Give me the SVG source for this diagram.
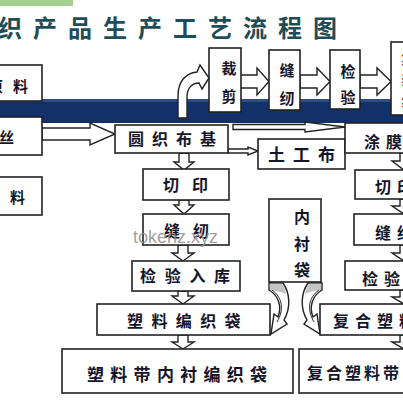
<svg xmlns="http://www.w3.org/2000/svg" width="403" height="403" viewBox="0 0 403 403">
<style>
.box{fill:#fff;stroke:#222;stroke-width:1.6}
.t{font-family:"Noto Sans CJK SC","Noto Sans",sans-serif;font-weight:700;fill:#15152a;font-size:16px}
.vt{font-family:"Noto Sans CJK SC","Noto Sans",sans-serif;font-weight:700;fill:#15152a;font-size:15px;text-anchor:middle}
.arr{fill:#fff;stroke:#222;stroke-width:1.4;stroke-linejoin:miter}
.title{font-family:"Noto Sans CJK SC","Noto Sans",sans-serif;font-weight:700;fill:#1e4d57;font-size:24px;letter-spacing:11px}
</style>
<rect width="403" height="403" fill="#fff"/>
<rect x="0" y="0" width="73" height="6" fill="#a3cf8f"/>
<text class="title" x="-2" y="37">织产品生产工艺流程图</text>
<rect x="0" y="99" width="403" height="24" fill="#12306a"/>
<rect x="0" y="99" width="403" height="3" fill="#2c4c82"/>

<g id="connectors">
  <path class="arr" d="M178,118 L178,96 C178,81 186,73 197,72 L200,65 L209,78 L202,89 L199,83 C192,83 187,88 187,97 L187,118 Z"/>
  <polygon class="arr" points="239,75 257,75 257,68 269,81.5 257,95 257,88 239,88"/>
  <polygon class="arr" points="300,75 317,75 317,68 330,81.5 317,95 317,88 300,88"/>
  <polygon class="arr" points="360,75 377,75 377,68 391,81.5 377,95 377,88 360,88"/>
  <polygon class="arr" points="42,128 90,128 90,123 115,134 90,145 90,140 42,140"/>
  <polygon class="arr" points="233,124.5 305,124.5 305,122 345,127 305,132 305,129.5 233,129.5"/>
  <polygon class="arr" points="228,149 248,149 248,147 258,151 248,155 248,153 228,153"/>
  <polygon class="arr" points="179,153 189,153 189,162 194,162 184,170 174,162 179,162"/>
  <polygon class="arr" points="179,200 189,200 189,205 194,205 184,214 174,205 179,205"/>
  <polygon class="arr" points="178,245 188,245 188,253 194,253 183,261 172,253 178,253"/>
  <polygon class="arr" points="178,291 188,291 188,296 194,296 183,304 172,296 178,296"/>
  <polygon class="arr" points="178,335 188,335 188,342 194,342 183,349 172,342 178,342"/>
  <polygon class="arr" points="400,153 408,153 408,161 416,161 404,170 392,161 400,161"/>
  <polygon class="arr" points="400,199 408,199 408,206 416,206 404,214 392,206 400,206"/>
  <polygon class="arr" points="400,245 408,245 408,253 416,253 404,261 392,253 400,253"/>
  <polygon class="arr" points="400,290 408,290 408,297 416,297 404,304 392,297 400,297"/>
  <polygon class="arr" points="400,335 408,335 408,342 416,342 404,349 392,342 400,342"/>
  <g id="curl-left">
    <path class="arr" d="M269,283 L283,283 C290,293 291,308 284,320 L287,324 L271,334 L274,314 L278,317 C282,307 279,296 269,290 Z"/>
    <path d="M269.8,283.8 L282.4,283.8 C284.2,287 285.4,290.5 286.2,294 C281,292 275,290.5 270,290 Z" fill="#c4c4c4"/>
    <path d="M272,290 C283,298 284,310 277,322" fill="none" stroke="#222" stroke-width="1"/>
  </g>
  <g id="curl-right" transform="translate(591,0) scale(-1,1)">
    <path class="arr" d="M269,283 L283,283 C290,293 291,308 284,320 L287,324 L271,334 L274,314 L278,317 C282,307 279,296 269,290 Z"/>
    <path d="M269.8,283.8 L282.4,283.8 C284.2,287 285.4,290.5 286.2,294 C281,292 275,290.5 270,290 Z" fill="#c4c4c4"/>
    <path d="M272,290 C283,298 284,310 277,322" fill="none" stroke="#222" stroke-width="1"/>
  </g>
</g>

<g id="n-yuanliao"><rect class="box" x="-2" y="65" width="44" height="36"/><text class="t" style="font-size:15px;letter-spacing:10px" x="-12" y="92">原料</text></g>
<g id="n-lasi"><rect class="box" x="-2" y="117" width="44" height="38"/><text class="t" style="font-size:15px;letter-spacing:6px" x="-22" y="143">拉丝</text></g>
<g id="n-fuliao"><rect class="box" x="-2" y="177" width="44" height="38"/><text class="t" style="font-size:15px;letter-spacing:11px" x="-16" y="203">辅料</text></g>

<g id="n-caijian"><rect class="box" x="209" y="48" width="32" height="64"/><text class="vt" x="229" y="74">裁</text><text class="vt" x="229" y="102">剪</text></g>
<g id="n-fengren-top"><rect class="box" x="269" y="50" width="31" height="60"/><text class="vt" x="287" y="76">缝</text><text class="vt" x="287" y="104">纫</text></g>
<g id="n-jianyan-top"><rect class="box" x="330" y="50" width="30" height="59"/><text class="vt" x="348" y="77">检</text><text class="vt" x="348" y="103">验</text></g>
<g id="n-last-top"><rect class="box" x="391" y="42" width="20" height="73"/><text class="vt" x="409" y="64">集</text><text class="vt" x="409" y="86">装</text><text class="vt" x="409" y="108">袋</text></g>

<g id="n-yuanzhi"><rect class="box" x="115" y="125" width="113" height="28"/><text class="t" style="letter-spacing:8px" x="128" y="145">圆织布基</text></g>
<g id="n-tugongbu"><rect class="box" x="258" y="139" width="87" height="30"/><text class="t" style="font-size:17px;letter-spacing:8px" x="268" y="161">土工布</text></g>
<g id="n-tumo"><rect class="box" x="345" y="123" width="70" height="30"/><text class="t" style="letter-spacing:6px" x="364" y="148">涂膜</text></g>

<g id="n-qieyin-l"><rect class="box" x="143" y="169" width="86" height="31"/><text class="t" style="letter-spacing:13px" x="163" y="191">切印</text></g>
<g id="n-fengren-l"><rect class="box" x="143" y="214" width="86" height="31"/><text class="t" style="letter-spacing:13px" x="164" y="237">缝纫</text></g>
<g id="n-jianyan-l"><rect class="box" x="132" y="261" width="108" height="30"/><text class="t" style="letter-spacing:8.7px" x="140" y="282">检验入库</text></g>
<g id="n-sliao-bag"><rect class="box" x="97" y="304" width="173" height="31"/><text class="t" style="letter-spacing:8.4px" x="127" y="327">塑料编织袋</text></g>
<g id="n-sliao-liner"><rect class="box" x="62" y="349" width="231" height="44"/><text class="t" style="font-size:17px;letter-spacing:6.3px" x="87" y="381">塑料带内衬编织袋</text></g>

<g id="n-neichen"><rect class="box" x="269" y="199" width="52" height="83"/><text class="vt" style="font-size:16px" x="302" y="223">内</text><text class="vt" style="font-size:16px" x="302" y="250">衬</text><text class="vt" style="font-size:16px" x="302" y="276">袋</text></g>

<g id="n-qieyin-r"><rect class="box" x="355" y="170" width="60" height="29"/><text class="t" style="letter-spacing:6px" x="375" y="193">切印</text></g>
<g id="n-fengren-r"><rect class="box" x="354" y="214" width="60" height="31"/><text class="t" style="letter-spacing:6px" x="375" y="239">缝纫</text></g>
<g id="n-jianyan-r"><rect class="box" x="345" y="261" width="70" height="29"/><text class="t" style="letter-spacing:6px" x="362" y="285">检验入库</text></g>
<g id="n-fuhe-bag"><rect class="box" x="320" y="304" width="95" height="31"/><text class="t" style="letter-spacing:6px" x="333" y="327">复合塑料编织袋</text></g>
<g id="n-fuhe-liner"><rect class="box" x="299" y="349" width="115" height="44"/><text class="t" style="letter-spacing:3px" x="307" y="379">复合塑料带内衬编织袋</text></g>

<text x="133" y="243" font-family="Liberation Sans, sans-serif" font-size="18" fill="#8e8e8e" fill-opacity="0.85">tokenz.xyz</text>
</svg>
